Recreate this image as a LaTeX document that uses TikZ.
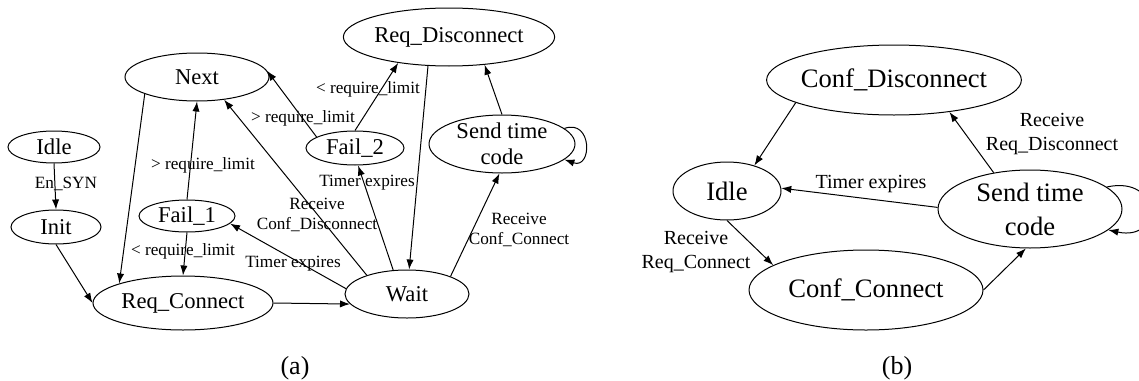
\documentclass[tikz,border=0pt]{standalone}
\usepackage{fontspec}
\setmainfont{Liberation Serif}
\usetikzlibrary{shapes.geometric,arrows.meta}

\begin{document}
\begin{tikzpicture}[x=0.5pt,y=-0.5pt,
  every node/.style={inner sep=0pt},
  st/.style={draw, ellipse, line width=0.5pt, font=\fontsize{11.3}{13}\selectfont, align=center},
  stb/.style={draw, ellipse, line width=0.5pt, font=\fontsize{13.3}{17}\selectfont, align=center},
  lbl/.style={font=\fontsize{8.6}{10}\selectfont, align=center},
  lblb/.style={font=\fontsize{10}{12}\selectfont, align=center},
  captxt/.style={font=\fontsize{13}{15}\selectfont},
  tr/.style={draw, line width=0.5pt, -{Latex[length=5pt,width=3.6pt]}}]
\useasboundingbox (0,0) rectangle (1139,380);
% (a)
\node[st, minimum width=104pt, minimum height=29pt] (ReqDis) at (449,37) {Req\_Disconnect};
\node[st, minimum width=72pt, minimum height=24pt] (Next) at (197,77) {Next};
\node[st, minimum width=46pt, minimum height=16pt] (IdleA) at (54,147) {Idle};
\node[st, minimum width=49pt, minimum height=17pt] (FailB) at (355,148) {Fail\_2};
\node[st, minimum width=73pt, minimum height=29pt, inner ysep=-2pt] (SendA) at (502,144) {Send time\\code};
\node[st, minimum width=45pt, minimum height=17pt] (Init) at (56,227) {Init};
\node[st, minimum width=48pt, minimum height=16pt] (FailA) at (187,216) {Fail\_1};
\node[st, minimum width=90pt, minimum height=27pt] (ReqCon) at (183,303) {Req\_Connect};
\node[st, minimum width=62pt, minimum height=24pt] (Wait) at (407,294) {Wait};
\draw[tr] (IdleA.south) -- (Init.north);
\draw[tr] (Init.south) -- (ReqCon.west);
\draw[tr] (Next.198) -- (ReqCon.163);
\draw[tr] (FailA.north) -- (Next.south);
\draw[tr] (FailA.south) -- (ReqCon.north);
\draw[tr] (Wait.175) -- (FailA.350);
\draw[tr] (Wait.155) -- (Next.320);
\draw[tr] (Wait.120) -- (FailB.280);
\draw[tr] (FailB.164) -- (Next.5);
\draw[tr] (FailB.north) -- (ReqDis.207);
\draw[tr] (ReqDis.234) -- (Wait.85);
\draw[tr] (Wait.22) -- (SendA.265);
\draw[tr] (SendA.north) -- (ReqDis.322);
\draw[tr] (SendA.14) .. controls +(28,-10) and +(28,10) .. (SendA.-14);
\draw[tr] (ReqCon.east) -- (Wait.190);
\node[lbl] (lSyn) at (66,184) {En\_SYN};
\node[lbl] (lGtA) at (203,165) {> require\_limit};
\node[lbl] (lLtA) at (183,251) {< require\_limit};
\node[lbl] (lTmA) at (293,264) {Timer expires};
\node[lbl] (lRcd) at (317,215) {Receive\\Conf\_Disconnect};
\node[lbl] (lTmB) at (367,183) {Timer expires};
\node[lbl] (lGtB) at (303,118) {> require\_limit};
\node[lbl] (lLtB) at (368,89) {< require\_limit};
\node[lbl] (lRcc) at (519,230) {Receive\\Conf\_Connect};
\node[captxt] (capA) at (295,368) {(a)};
% (b)
\node[stb, minimum width=127pt, minimum height=35pt, inner xsep=-1.5pt] (ConfDis) at (894,80) {Conf\_Disconnect};
\node[stb, minimum width=54pt, minimum height=29pt] (IdleB) at (727,191) {Idle};
\node[stb, minimum width=92pt, minimum height=39pt, inner ysep=-1.5pt] (SendB) at (1030,209) {Send time\\code};
\node[stb, minimum width=117pt, minimum height=40pt] (ConfCon) at (866,290) {Conf\_Connect};
\draw[tr] (ConfDis.193) -- (IdleB.43);
\draw[tr] (SendB.179) -- (IdleB.3);
\draw[tr] (IdleB.south) -- (ConfCon.165);
\draw[tr] (ConfCon.east) -- (SendB.264);
\draw[tr] (SendB.135) -- (ConfDis.330);
\draw[tr] (SendB.16) .. controls +(55,-12) and +(55,12) .. (SendB.-15);
\node[lblb] (lTmC) at (871,184) {Timer expires};
\node[lblb] (lRrc) at (696,252) {Receive\\Req\_Connect};
\node[lblb] (lRrd) at (1052,134) {Receive\\Req\_Disconnect};
\node[captxt] (capB) at (897,368) {(b)};
\end{tikzpicture}
\end{document}
